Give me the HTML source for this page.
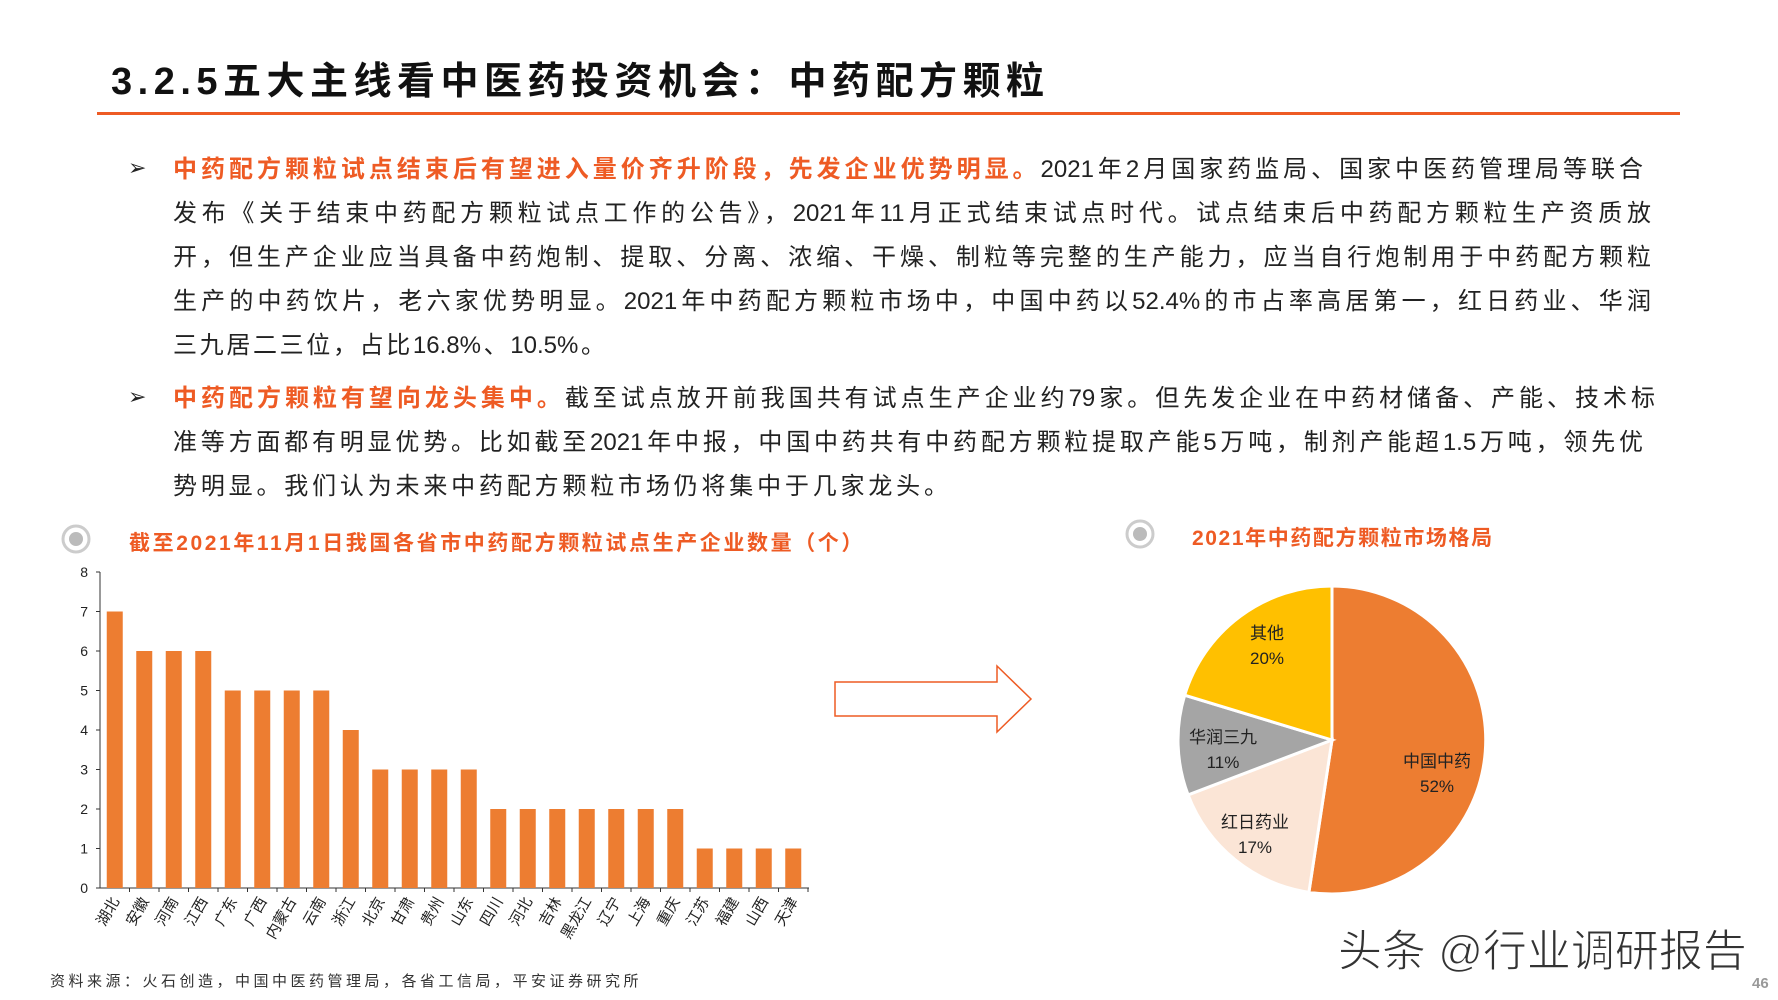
<!DOCTYPE html>
<html><head><meta charset="utf-8"><style>
body{margin:0;width:1778px;height:1000px;background:#fff;overflow:hidden;position:relative;font-family:"Liberation Sans","Noto Sans CJK SC",sans-serif;}
.ln{position:absolute;left:173px;width:1478px;font-size:24px;color:#222;text-align:justify;text-align-last:justify;white-space:nowrap;line-height:30px;}
.o{color:#EE5B24;font-weight:bold;}
.bul{position:absolute;left:128px;font-size:22px;color:#222;}
</style></head><body>
<div style="position:absolute;left:111px;top:50px;font-size:38px;font-weight:bold;color:#111;letter-spacing:5.5px;">3.2.5五大主线看中医药投资机会：中药配方颗粒</div>
<div style="position:absolute;left:97px;top:112px;width:1592px;height:3px;background:#EE5B24;width:1583px"></div>
<div class="bul" style="top:155px">➢</div>
<div class="ln" style="top:155px;width:1470px"><span class="o">中药配方颗粒试点结束后有望进入量价齐升阶段，先发企业优势明显。</span>2021年2月国家药监局、国家中医药管理局等联合</div>
<div class="ln" style="top:199px">发布《关于结束中药配方颗粒试点工作的公告》，2021年11月正式结束试点时代。试点结束后中药配方颗粒生产资质放</div>
<div class="ln" style="top:243px">开，但生产企业应当具备中药炮制、提取、分离、浓缩、干燥、制粒等完整的生产能力，应当自行炮制用于中药配方颗粒</div>
<div class="ln" style="top:287px">生产的中药饮片，老六家优势明显。2021年中药配方颗粒市场中，中国中药以52.4%的市占率高居第一，红日药业、华润</div>
<div class="ln" style="top:331px;width:432px">三九居二三位，占比16.8%、10.5%。</div>
<div class="bul" style="top:384px">➢</div>
<div class="ln" style="top:384px;width:1482px"><span class="o">中药配方颗粒有望向龙头集中。</span>截至试点放开前我国共有试点生产企业约79家。但先发企业在中药材储备、产能、技术标</div>
<div class="ln" style="top:428px;width:1470px">准等方面都有明显优势。比如截至2021年中报，中国中药共有中药配方颗粒提取产能5万吨，制剂产能超1.5万吨，领先优</div>
<div class="ln" style="top:472px;width:775px">势明显。我们认为未来中药配方颗粒市场仍将集中于几家龙头。</div>
<svg width="1778" height="1000" style="position:absolute;left:0;top:0" font-family="Liberation Sans, Noto Sans CJK SC, sans-serif">
<g fill="none" stroke="#ccc" stroke-width="3"><circle cx="76" cy="539" r="13"/><circle cx="1140" cy="534" r="13"/></g>
<circle cx="76" cy="539" r="7" fill="#bbb"/><circle cx="1140" cy="534" r="7" fill="#bbb"/>
<text x="129" y="550" font-size="21" font-weight="bold" fill="#EE5B24" letter-spacing="2.6">截至2021年11月1日我国各省市中药配方颗粒试点生产企业数量（个）</text>
<text x="1192" y="545" font-size="21" font-weight="bold" fill="#EE5B24" letter-spacing="1.6">2021年中药配方颗粒市场格局</text>
<g transform="translate(0,-5)">
<g stroke="#333" stroke-width="1"><line x1="100" y1="577" x2="100" y2="893"/><line x1="100" y1="893" x2="809" y2="893"/></g>
<g font-size="14" fill="#222" text-anchor="end" id="yt"></g>
<g id="bars"></g>
</g>
<path d="M835 682 H997 V666 L1031 699 L997 732 V716 H835 Z" fill="none" stroke="#EE5B24" stroke-width="1.5"/>
<g transform="translate(-8,-3)">
<g stroke="#fff" stroke-width="3">
<path d="M1340 743 L1340 589 A154 154 0 1 1 1316.9 895.3 Z" fill="#ED7D31"/>
<path d="M1340 743 L1316.9 895.3 A154 154 0 0 1 1196.1 797.9 Z" fill="#FBE5D6"/>
<path d="M1340 743 L1196.1 797.9 A154 154 0 0 1 1192.7 698.2 Z" fill="#A5A5A5"/>
<path d="M1340 743 L1192.7 698.2 A154 154 0 0 1 1340 589 Z" fill="#FFC000"/>
</g>
<g font-size="17" fill="#222" text-anchor="middle">
<text x="1445" y="770">中国中药</text><text x="1445" y="795">52%</text>
<text x="1263" y="831">红日药业</text><text x="1263" y="856">17%</text>
<text x="1231" y="746">华润三九</text><text x="1231" y="771">11%</text>
<text x="1275" y="642">其他</text><text x="1275" y="667">20%</text>
</g>
</g>
<text x="50" y="986" font-size="15" fill="#333" letter-spacing="3.5">资料来源：火石创造，中国中医药管理局，各省工信局，平安证券研究所</text>
<text x="1338" y="966" font-size="44" fill="#333" stroke="#fff" stroke-width="1">头条 @行业调研报告</text>
<text x="1752" y="988" font-size="15" font-weight="bold" fill="#999">46</text>
</svg>
<script>
var v=[7,6,6,6,5,5,5,5,4,3,3,3,3,2,2,2,2,2,2,2,1,1,1,1];
var n=["湖北","安徽","河南","江西","广东","广西","内蒙古","云南","浙江","北京","甘肃","贵州","山东","四川","河北","吉林","黑龙江","辽宁","上海","重庆","江苏","福建","山西","天津"];
var s="";
for(var i=0;i<24;i++){var cx=100+29.5*(i+0.5),h=v[i]*39.5;
s+='<rect x="'+(cx-8)+'" y="'+(893-h)+'" width="16" height="'+h+'" fill="#ED7D31"/>';
s+='<line x1="'+(100+29.5*(i+1))+'" y1="893" x2="'+(100+29.5*(i+1))+'" y2="897" stroke="#333"/>';
s+='<text font-size="15" fill="#222" text-anchor="end" transform="translate('+(cx+5)+',906) rotate(-60)">'+n[i]+'</text>';}
document.getElementById("bars").innerHTML=s;
var t="";for(var k=0;k<=8;k++){var y=893-k*39.5;t+='<text x="88" y="'+(y+5)+'">'+k+'</text><line x1="96" y1="'+y+'" x2="100" y2="'+y+'" stroke="#333"/>';}
document.getElementById("yt").innerHTML=t;
</script>
</body></html>
